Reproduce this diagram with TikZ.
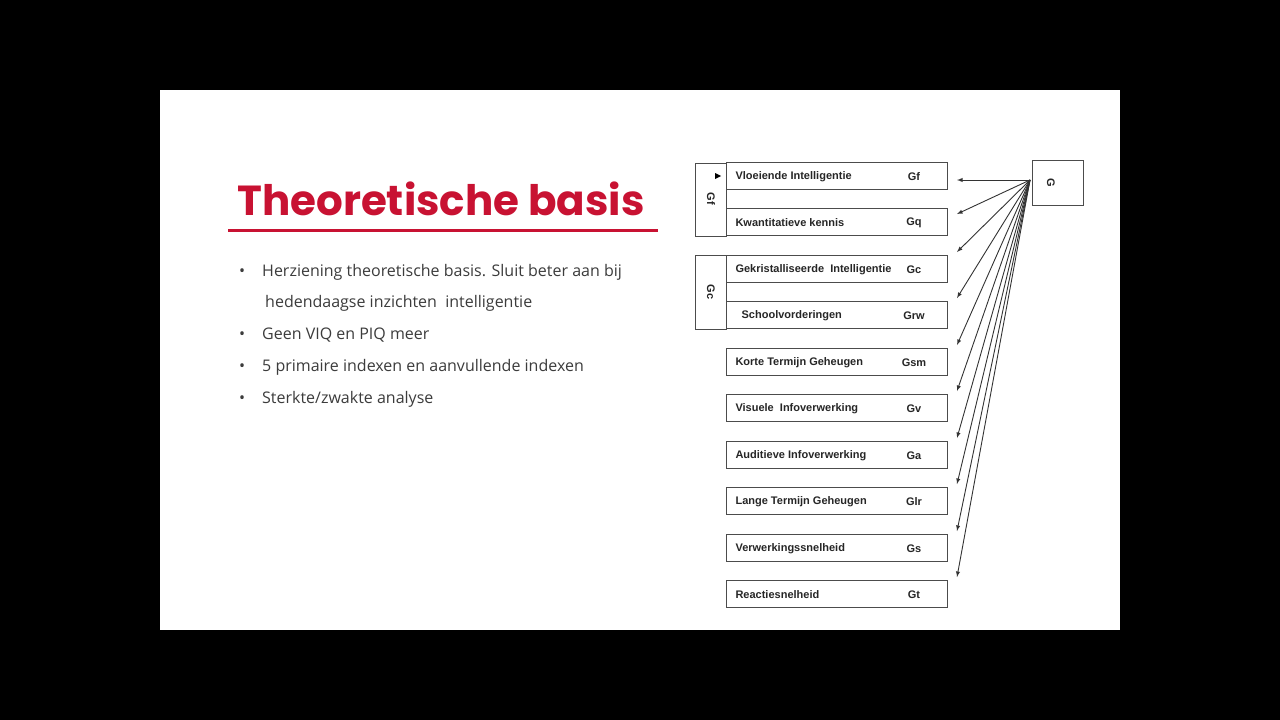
\documentclass[tikz,border=0pt]{standalone}
\usepackage{fontspec}
\setmainfont{Open Sans}
\newfontfamily\boxf{Liberation Sans}
\newfontfamily\titf{Poppins}
\definecolor{tred}{RGB}{200,18,50}
\definecolor{tgray}{RGB}{60,60,60}
\begin{document}
\begin{tikzpicture}[x=1pt,y=-1pt,
  ab/.style={draw=black!70,line width=0.9pt,minimum width=221pt,minimum height=27pt,inner sep=0pt},
  lab/.style={font=\boxf\bfseries\fontsize{11}{12}\selectfont,text=black!85},
  arr/.style={-latex,line width=0.9pt,black!80},
  bul/.style={font=\fontsize{16}{18}\selectfont,text=tgray,anchor=west,inner sep=0pt}]
\fill[black] (0,0) rectangle (1280,720);
\fill[white] (160,90) rectangle (1120,630);
\useasboundingbox (0,0) rectangle (1280,720);
\node[font=\titf\bfseries\fontsize{42}{44}\selectfont,text=tred] (title) at (441,199) {Theoretische basis};
\draw[tred,line width=3pt] (228,230) -- (658,230);
\node[bul] (b1) at (239,272) {•\hspace{17pt}Herziening theoretische basis. Sluit beter aan bij};
\node[bul] (b1b) at (265,303) {hedendaagse inzichten\ \ intelligentie};
\node[bul] (b2) at (239,335) {•\hspace{17pt}Geen VIQ en PIQ meer};
\node[bul] (b3) at (239,367) {•\hspace{17pt}5 primaire indexen en aanvullende indexen};
\node[bul] (b4) at (239,399) {•\hspace{17pt}Sterkte/zwakte analyse};
% groups
\draw[black!70,line width=0.9pt] (695,163) rectangle (726,236);
\draw[black!70,line width=0.9pt] (695,255) rectangle (726,329);
\node[lab,rotate=-90] (gfl) at (711,199) {Gf};
\node[lab,rotate=-90] (gcl) at (711,292) {Gc};
\fill[black] (715,173) -- (721,176) -- (715,179) -- cycle;
% G box
\node[draw=black!70,line width=0.9pt,minimum width=51pt,minimum height=45pt] (G) at (1057.5,182.5) {};
\node[lab,rotate=-90] (Gl) at (1051,183) {G};
\coordinate (o) at (1030,180);
\foreach \n/\y/\t/\c/\ay in {
 1/176/Vloeiende Intelligentie/Gf/180,
 2/222/Kwantitatieve kennis/Gq/214,
 3/269/Gekristalliseerde\ \ Intelligentie/Gc/252,
 4/315/\ \ Schoolvorderingen/Grw/298,
 5/362/Korte Termijn Geheugen/Gsm/345,
 6/408/Visuele\ \ Infoverwerking/Gv/391,
 7/455/Auditieve Infoverwerking/Ga/438,
 8/501/Lange Termijn Geheugen/Glr/484,
 9/548/Verwerkingssnelheid/Gs/531,
 10/594/Reactiesnelheid/Gt/577}{
 \node[ab] (r\n) at (836.5,\y) {};
 \node[lab,anchor=west] (t\n) at (732,\y+1) {\t};
 \node[lab] (c\n) at (914,\y+1) {\c};
 \coordinate (e\n) at (957,\ay);
 \draw[arr] (o) -- (e\n);
}
\end{tikzpicture}
\end{document}
